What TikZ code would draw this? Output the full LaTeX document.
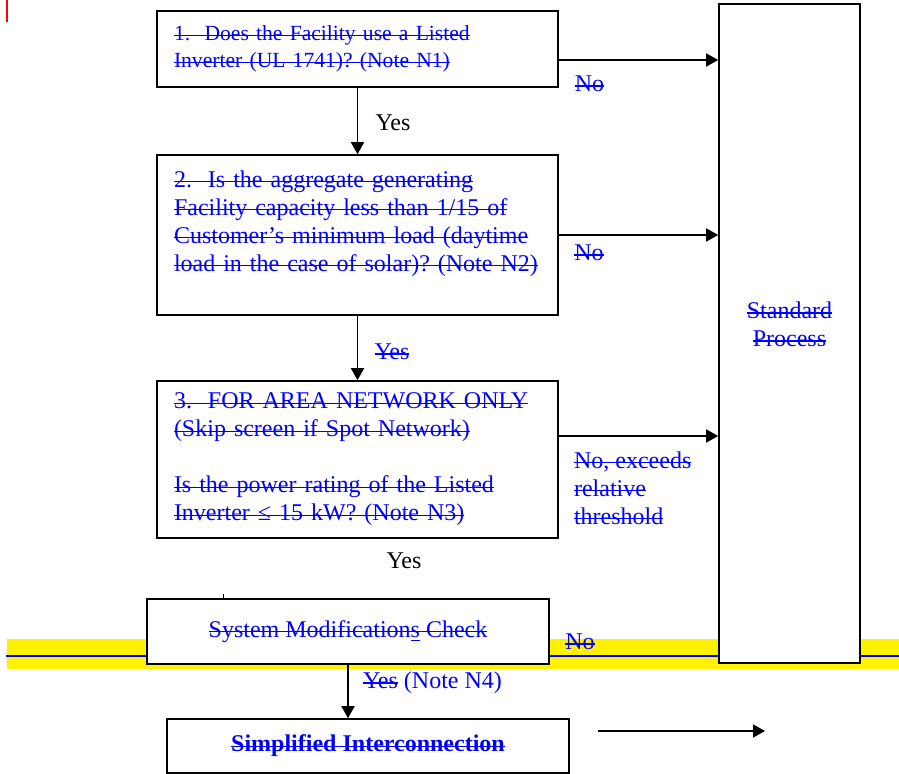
\documentclass[tikz,border=0pt]{standalone}
\usepackage{fontspec}
\setmainfont{Liberation Serif}
\usetikzlibrary{arrows.meta}
\frenchspacing
% struck-out text, the rule in the current colour
\newsavebox{\strkbox}
\newcommand{\strk}[1]{\leavevmode{\sbox{\strkbox}{#1}\rlap{\usebox{\strkbox}}\rule[0.45ex]{\wd\strkbox}{0.7pt}}}

\begin{document}
\begin{tikzpicture}[x=0.5pt,y=-0.5pt,
		box/.style={draw, line width=0.8pt, fill=white, text=blue, font=\fontsize{12}{14}\selectfont},
		qbox/.style={box, text width=183.5pt, inner xsep=8.5pt, align=left},
		lbl/.style={font=\fontsize{12}{14}\selectfont},
		arr/.style={-{Triangle[length=6pt,width=6.5pt]}, line width=0.8pt}]
		\useasboundingbox (0,0) rectangle (899,774);
		% red mark and highlighted rule
		\draw[red, line width=1pt] (7,0) -- (7,22);
		\fill[yellow] (7,639) rectangle (899,669);
		\draw[blue, line width=0.8pt] (6,656) -- (899,656);
		% screens
		\node[qbox, minimum height=38pt, font=\fontsize{10.8}{13.5}\selectfont] (q1) at (357.5,49)
			{\strk{1.\ \ Does the Facility use a Listed}\\\strk{Inverter (UL 1741)? (Note N1)}};
		\node[qbox, minimum height=80pt] (q2) at (357.5,235)
			{\strk{2.\ \ Is the aggregate generating}\\\strk{Facility capacity less than 1/15 of}\\\strk{Customer's minimum load (daytime}\\\strk{load in the case of solar)? (Note N2)}\\\mbox{}};
		\node[qbox, minimum height=78.5pt] (q3) at (357.5,459.5)
			{\strk{3.\ \ FOR AREA NETWORK ONLY}\\\strk{(Skip screen if Spot Network)}\\\mbox{}\\\strk{Is the power rating of the Listed}\\\strk{Inverter ≤ 15 kW? (Note N3)}};
		\node[box, minimum width=201pt, minimum height=32.5pt] (q4) at (348,631.5)
			{\strk{System Modification}\underline{\strk{s}}\strk{ Check}};
		\node[box, minimum width=201pt, minimum height=27pt, font=\fontsize{12}{14}\selectfont\bfseries] (q5) at (368,746)
			{\strk{Simplified Interconnection}};
		\node[box, minimum width=70.5pt, minimum height=329.5pt, align=center] (std) at (789.5,333.5)
			{\strk{Standard}\\\strk{Process}\\[-5pt]\mbox{}};
		% arrows
		\coordinate (n1) at (0,60);
		\coordinate (n3) at (0,436);
		\draw[arr] (q1.east |- n1) -- (std.west |- n1);
		\draw[arr] (q2.east) -- (q2.east -| std.west);
		\draw[arr] (q3.east |- n3) -- (std.west |- n3);
		\draw[arr] (q1) -- (q2);
		\draw[arr] (q2) -- (q3);
		\draw[arr] (q4.south) -- (q4.south |- q5.north);
		\draw (223,594) -- (223,599.5);
		\coordinate (fa) at (598,731);
		\coordinate (fb) at (765,731);
		\draw[arr] (fa) -- (fb);
		% labels
		\node[lbl] (yes1) at (393,123) {Yes};
		\node[lbl, text=blue] (yes2) at (392,352) {\strk{Yes}};
		\node[lbl] (yes3) at (404,561) {Yes};
		\node[lbl, text=blue, anchor=west] (yes4) at (356,683) {\strk{Yes} (Note N4)};
		\node[lbl, text=blue] (no1) at (589.5,84) {\strk{No}};
		\node[lbl, text=blue] (no2) at (589,253) {\strk{No}};
		\node[lbl, text=blue, anchor=west, align=left] (no3) at (567,488)
			{\strk{No, exceeds}\\\strk{relative}\\\strk{threshold}};
		\node[lbl, text=blue] (no4) at (580,642) {\strk{No}};
	\end{tikzpicture}
\end{document}
